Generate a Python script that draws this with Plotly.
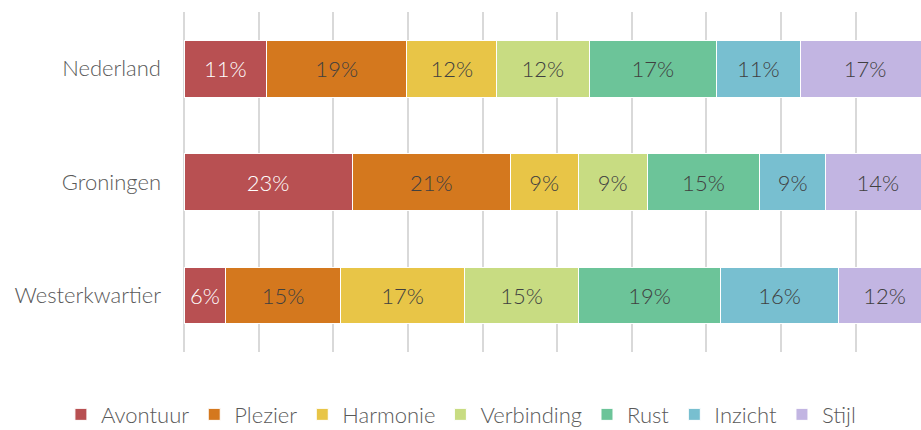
import plotly.graph_objects as go

regions = ["Nederland", "Groningen", "Westerkwartier"]
series = ["Avontuur", "Plezier", "Harmonie", "Verbinding", "Rust", "Inzicht", "Stijl"]
avontuur = [11.08, 22.55, 5.6]
plezier = [18.76, 21.18, 15.37]
harmonie = [12.06, 9.07, 16.6]
verbinding = [12.37, 9.25, 15.33]
rust = [17.11, 15.10, 18.98]
inzicht = [11.16, 8.80, 15.86]
stijl = [17.46, 14.05, 12.26]
values = [avontuur, plezier, harmonie, verbinding, rust, inzicht, stijl]
colors = ["#B85052", "#D4781E", "#E8C547", "#C8DC82", "#6CC499", "#78BFD0", "#C2B5E2"]
text_colors = ["#FFFFFF", "#404040", "#404040", "#404040", "#404040", "#404040", "#404040"]

FONT = "Lato"

fig = go.Figure()
for name, vals, col, tcol in zip(series, values, colors, text_colors):
    fig.add_trace(go.Bar(
        y=regions, x=vals, name=name, orientation="h",
        marker=dict(color=col, line=dict(color="white", width=1)),
        texttemplate="%{x:.0f}%", textposition="inside", insidetextanchor="middle",
        textangle=0,
        textfont=dict(color=tcol, size=22, family=FONT, weight=300),
        hoverinfo="skip",
    ))

fig.update_layout(
    width=921, height=430,
    barmode="stack", bargap=0.5,
    plot_bgcolor="white", paper_bgcolor="white",
    margin=dict(l=184, r=0, t=12, b=78, autoexpand=False),
    font=dict(family=FONT, size=22, color="#595959", weight=300),
    legend=dict(
        orientation="h",
        x=-0.167, xanchor="left", y=-0.184, yanchor="middle",
        font=dict(size=22, color="#595959", family=FONT, weight=300),
        itemwidth=30, traceorder="normal",
    ),
    xaxis=dict(
        range=[0, 98.75], dtick=10, showticklabels=False,
        showgrid=True, gridcolor="#D9D9D9", gridwidth=2,
        zeroline=True, zerolinecolor="#D9D9D9", zerolinewidth=2,
        showline=False, fixedrange=True, automargin=False,
    ),
    yaxis=dict(
        categoryorder="array", categoryarray=regions[::-1],
        showgrid=False, zeroline=False, showline=False, fixedrange=True,
        ticks="", ticklabelstandoff=22, automargin=False,
        tickfont=dict(size=22, color="#595959", family=FONT, weight=300),
    ),
)

fig.write_html(
    "out.html",
    config={"displayModeBar": False, "staticPlot": True},
    post_script="document.body.style.margin='0';document.documentElement.style.overflow='hidden';document.body.style.overflow='hidden';",
)
